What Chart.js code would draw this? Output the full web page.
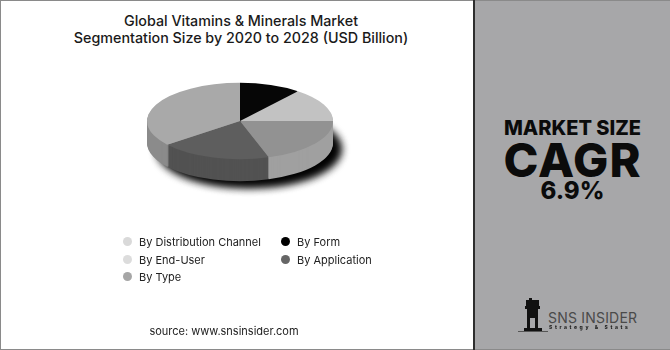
<!DOCTYPE html>
<html>
<head>
<meta charset="utf-8">
<script src="https://cdn.jsdelivr.net/npm/chart.js@4.4.1/dist/chart.umd.min.js"></script>
<style>
  html, body { margin: 0; padding: 0; }
  body { width: 670px; height: 350px; position: relative; overflow: hidden; background: #fff; font-family: "Inter", "Open Sans", sans-serif; }
  #frame { position: absolute; left: 0; top: 0; width: 669px; height: 348px; border: 1px solid #8a8a8a; border-right: none; }
  #left { position: absolute; left: 1px; top: 1px; width: 472px; height: 348px; background: #fff; }
  #divider { position: absolute; left: 473px; top: 0; width: 2px; height: 350px; background: #2e2e2e; }
  #right { position: absolute; left: 475px; top: 1px; width: 195px; height: 348px; background: #a7a7a9; }
  #title { position: absolute; left: 0; top: 12px; width: 482px; text-align: center; font-size: 14.3px; line-height: 17px; font-weight: 500; color: #1a1a1a; }
  #pie { position: absolute; left: 0; top: 0; }
  .leg { position: absolute; font-size: 11px; color: #222; white-space: nowrap; }
  .leg i { position: absolute; left: -16px; top: 2px; width: 9px; height: 9px; border-radius: 50%; }
  #source { position: absolute; left: 0; width: 448px; top: 324px; text-align: center; font-size: 11px; color: #222; }
  .big { position: absolute; left: 475px; width: 195px; text-align: center; font-weight: 800; color: #0b0b0b; }
  #logo-text { position: absolute; left: 548px; top: 309px; font-size: 14px; color: #4a4a4a; letter-spacing: 0.2px; }
  #logo-sub { position: absolute; left: 549px; top: 324px; font-size: 5px; font-weight: 800; color: #222; letter-spacing: 2.6px; }
</style>
</head>
<body>
<div id="frame"></div>
<div id="left"></div>
<div id="right"></div>
<div id="divider"></div>
<div id="title">Global Vitamins &amp; Minerals Market<br>Segmentation Size by 2020 to 2028 (USD Billion)</div>
<canvas id="pie" width="474" height="350"></canvas>
<div id="legend"></div>
<div id="source">source: www.snsinsider.com</div>
<div class="big" style="top:116px;font-size:20px;">MARKET SIZE</div>
<div class="big" style="top:131px;font-size:47px;letter-spacing:1px;">CAGR</div>
<div class="big" style="top:176px;font-size:24px;">6.9%</div>
<svg style="position:absolute;left:518px;top:298px" width="30" height="36" viewBox="0 0 30 36">
  <rect x="11" y="0" width="3" height="3" fill="#111"/>
  <rect x="8" y="2" width="13" height="6" fill="#111"/>
  <rect x="7" y="8" width="15" height="3" fill="#111"/>
  <rect x="9" y="11" width="11" height="19" fill="#111"/>
  <rect x="12" y="20" width="5" height="10" fill="#a7a7a9"/>
  <rect x="6" y="30" width="18" height="3" fill="#111"/>
  <rect x="0" y="33" width="30" height="1" fill="#555"/>
</svg>
<div id="logo-text">SNS INSIDER</div>
<div id="logo-sub">Strategy &amp; Stats</div>
<script>
// pie data, clockwise from 12 o'clock
const segments = ["By Form", "By Distribution Channel", "By End-User", "By Application", "By Type"];
const shares = [10.7, 14.3, 20.0, 19.3, 35.7];
const topColors = ["#060606", "#c2c2c2", "#929292", "#5e5e5e", "#a9a9a9"];
const sideColors = ["#000000", "#b0b0b0", "#a0a0a0", "#525252", "#8b8b8b"];

// legend, row by row
const legendLabels = ["By Distribution Channel", "By Form", "By End-User", "By Application", "By Type"];
const legendColors = ["#d9d9d9", "#000000", "#dcdcdc", "#666666", "#a6a6a6"];

const SQUASH = 0.41;
const DEPTH = 22;

function slicePath(ctx, a) {
  ctx.beginPath();
  ctx.moveTo(a.x, a.y);
  ctx.arc(a.x, a.y, a.outerRadius, a.startAngle, a.endAngle);
  ctx.closePath();
}

// squash the pie into an ellipse and extrude it downward
const pie3d = {
  id: "pie3d",
  beforeDatasetsDraw(chart) {
    const ctx = chart.ctx;
    const arcs = chart.getDatasetMeta(0).data;
    const cx = arcs[0].x, cy = arcs[0].y;
    const r = arcs[0].outerRadius;
    // soft drop shadow (shape drawn off canvas, only its shadow lands)
    ctx.save();
    ctx.shadowColor = "rgba(0,0,0,0.95)";
    ctx.shadowBlur = 10;
    ctx.shadowOffsetX = 1000;
    ctx.fillStyle = "#000";
    for (let k = 0; k < 2; k++) {
      ctx.beginPath();
      ctx.ellipse(cx + 9 - 1000, cy + DEPTH + 6, r - 2, (r - 2) * SQUASH, 0, 0, Math.PI * 2);
      ctx.fill();
    }
    ctx.restore();
    // sides
    for (let d = DEPTH; d >= 1; d--) {
      ctx.save();
      ctx.translate(cx, cy + d);
      ctx.scale(1, SQUASH);
      ctx.translate(-cx, -cy);
      arcs.forEach((a, i) => {
        slicePath(ctx, a);
        ctx.fillStyle = sideColors[i];
        ctx.fill();
      });
      ctx.restore();
    }
    // top face drawn by the library under this transform
    ctx.save();
    ctx.translate(cx, cy);
    ctx.scale(1, SQUASH);
    ctx.translate(-cx, -cy);
  },
  afterDatasetsDraw(chart) {
    chart.ctx.restore();
  }
};

new Chart(document.getElementById("pie"), {
  type: "pie",
  data: {
    labels: segments,
    datasets: [{
      data: shares,
      backgroundColor: topColors,
      borderWidth: 0
    }]
  },
  options: {
    responsive: false,
    animation: false,
    layout: { padding: { left: 147, right: 141, top: 28, bottom: 136 } },
    plugins: { legend: { display: false }, tooltip: { enabled: false } }
  },
  plugins: [pie3d]
});

// legend in two columns
const legend = document.getElementById("legend");
legendLabels.forEach((lbl, i) => {
  const el = document.createElement("div");
  el.className = "leg";
  el.style.left = (i % 2 === 0 ? 139 : 297) + "px";
  el.style.top = (235 + Math.floor(i / 2) * 17.5) + "px";
  el.innerHTML = '<i style="background:' + legendColors[i] + '"></i>' + lbl;
  legend.appendChild(el);
});
</script>
</body>
</html>
